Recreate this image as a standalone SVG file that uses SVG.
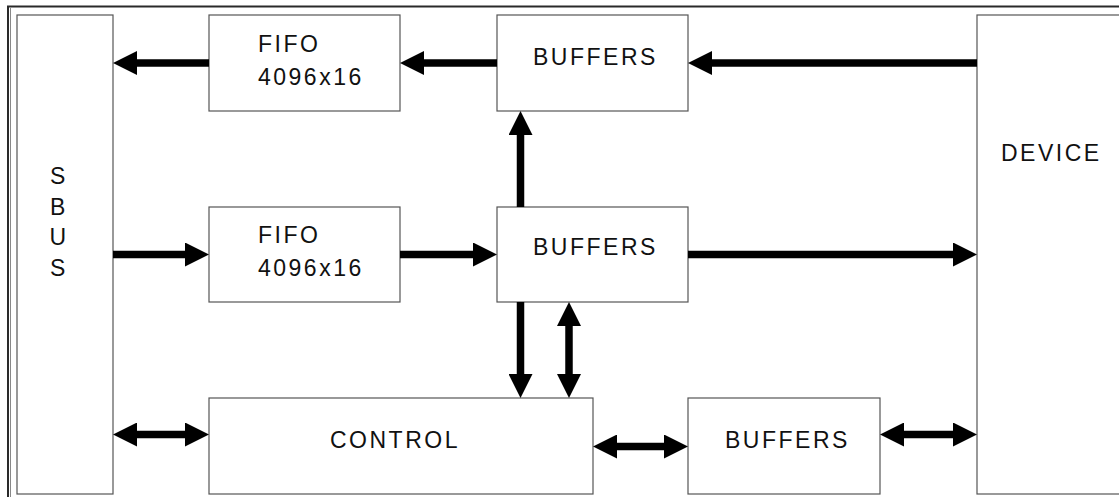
<svg xmlns="http://www.w3.org/2000/svg" width="1119" height="497" viewBox="0 0 1119 497">
<style>
.box{fill:#fff;stroke:#555;stroke-width:1.2}
.lbl{font-family:"Liberation Sans",Arial,sans-serif;font-size:23px;letter-spacing:2.5px;fill:#111}
.ar{stroke:#000;stroke-width:7.5;fill:none}
.one{marker-end:url(#ah)}
.two{marker-start:url(#ah);marker-end:url(#ah)}
</style>
<defs>
<marker id="ah" markerUnits="userSpaceOnUse" markerWidth="24" markerHeight="24" viewBox="0 0 24 24" refX="0" refY="12" orient="auto-start-reverse">
<path d="M0,0 L24,12 L0,24 Z" fill="#000"/>
</marker>
</defs>
<rect width="1119" height="497" fill="#fff"/>
<g id="frame">
<path d="M8,497 V6.5 H1119" fill="none" stroke="#2a2a2a" stroke-width="2"/>
<line x1="10.5" y1="8" x2="10.5" y2="497" stroke="#888" stroke-width="1"/>
</g>
<g id="sbus">
<rect class="box" x="17" y="15" width="96" height="479"/>
<text class="lbl" x="59" y="184" text-anchor="middle">S</text>
<text class="lbl" x="59" y="215" text-anchor="middle">B</text>
<text class="lbl" x="59" y="245" text-anchor="middle">U</text>
<text class="lbl" x="59" y="276" text-anchor="middle">S</text>
</g>
<g id="fifo-top">
<rect class="box" x="209" y="15" width="191" height="96"/>
<text class="lbl" x="258" y="52">FIFO</text>
<text class="lbl" x="258" y="85">4096x16</text>
</g>
<g id="buffers-top">
<rect class="box" x="497" y="15" width="191" height="96"/>
<text class="lbl" x="533" y="64.5">BUFFERS</text>
</g>
<g id="device">
<rect class="box" x="977" y="15" width="150" height="479"/>
<text class="lbl" x="1001" y="161">DEVICE</text>
</g>
<g id="fifo-mid">
<rect class="box" x="209" y="207" width="191" height="95"/>
<text class="lbl" x="258" y="243">FIFO</text>
<text class="lbl" x="258" y="276">4096x16</text>
</g>
<g id="buffers-mid">
<rect class="box" x="497" y="207" width="191" height="95"/>
<text class="lbl" x="533" y="255">BUFFERS</text>
</g>
<g id="control">
<rect class="box" x="209" y="398" width="384" height="96"/>
<text class="lbl" x="330" y="448">CONTROL</text>
</g>
<g id="buffers-bottom">
<rect class="box" x="688" y="398" width="192" height="96"/>
<text class="lbl" x="725" y="448">BUFFERS</text>
</g>
<g id="connectors">
<path class="ar one" d="M209,63 H137"/>
<path class="ar one" d="M497,63 H424"/>
<path class="ar one" d="M977,63 H712"/>
<path class="ar one" d="M520.5,207 V135"/>
<path class="ar one" d="M113,254.5 H185"/>
<path class="ar one" d="M400,254.5 H473"/>
<path class="ar one" d="M688,254.5 H953"/>
<path class="ar one" d="M520.5,302 V374"/>
<path class="ar two" d="M569,326 V374"/>
<path class="ar two" d="M137,434.5 H185"/>
<path class="ar two" d="M617,446.5 H664"/>
<path class="ar two" d="M904,434.5 H953"/>
</g>
</svg>
